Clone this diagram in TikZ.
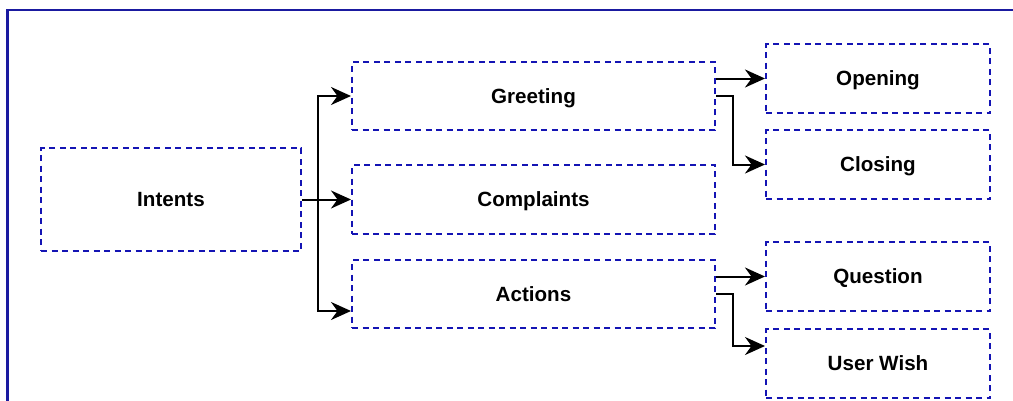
\documentclass[tikz,border=0pt]{standalone}
\usepackage{fontspec}
\setmainfont{Liberation Sans}
\usetikzlibrary{arrows.meta,calc}
\definecolor{frameblue}{RGB}{26,26,160}
\definecolor{boxblue}{RGB}{20,20,180}
\tikzset{
  cat/.style={draw=boxblue, line width=2pt, dash pattern=on 6pt off 4.5pt,
    minimum width=#1, inner sep=0pt, font=\fontsize{20.6}{24}\selectfont\bfseries,
    text height=14.8pt, text depth=0pt},
  cat/.default=363pt,
  sub/.style={cat=224pt, minimum height=69pt},
  arr/.style={draw=black, line width=2pt,
    -{Stealth[length=20pt, width=18pt, inset=6.5pt]}},
}
\begin{document}
\begin{tikzpicture}[x=1pt, y=-1pt]
  \useasboundingbox (0,0) rectangle (1013,400);
  \begin{scope}
    \clip (0,0) rectangle (1013,400);
    \draw[frameblue, line width=2.6pt] (7.5,420) -- (7.5,10) -- (1030,10);
  \end{scope}

  % root category
  \node[cat=260pt, minimum height=103pt] (intents) at (171,199.5) {Intents};

  % first level
  \node[cat, minimum height=68pt] (greeting)   at (533.5,96)    {Greeting};
  \node[cat, minimum height=69pt] (complaints) at (533.5,199.5) {Complaints};
  \node[cat, minimum height=68pt] (actions)    at (533.5,294)   {Actions};

  % second level
  \node[sub] (opening)  at (878,78.5)  {Opening};
  \node[sub] (closing)  at (878,164.5) {Closing};
  \node[sub] (question) at (878,276.5) {Question};
  \node[sub] (userwish) at (878,363.5) {User Wish};

  % bus from the root
  \draw[arr] (intents.east) -- ++(16,0) |- (greeting.west);
  \draw[arr] (intents.east) -- (complaints.west);
  \draw[arr] (intents.east) -- ++(16,0) |- ([yshift=-17pt]actions.west);

  % greeting children
  \draw[arr] (greeting.east |- opening.west) -- (opening.west);
  \draw[arr] (greeting.east) -- ++(16.5,0) |- (closing.west);

  % action children
  \draw[arr] (actions.east |- question.west) -- (question.west);
  \draw[arr] (actions.east) -- ++(16.5,0) |- ([yshift=17.5pt]userwish.west);
\end{tikzpicture}
\end{document}
